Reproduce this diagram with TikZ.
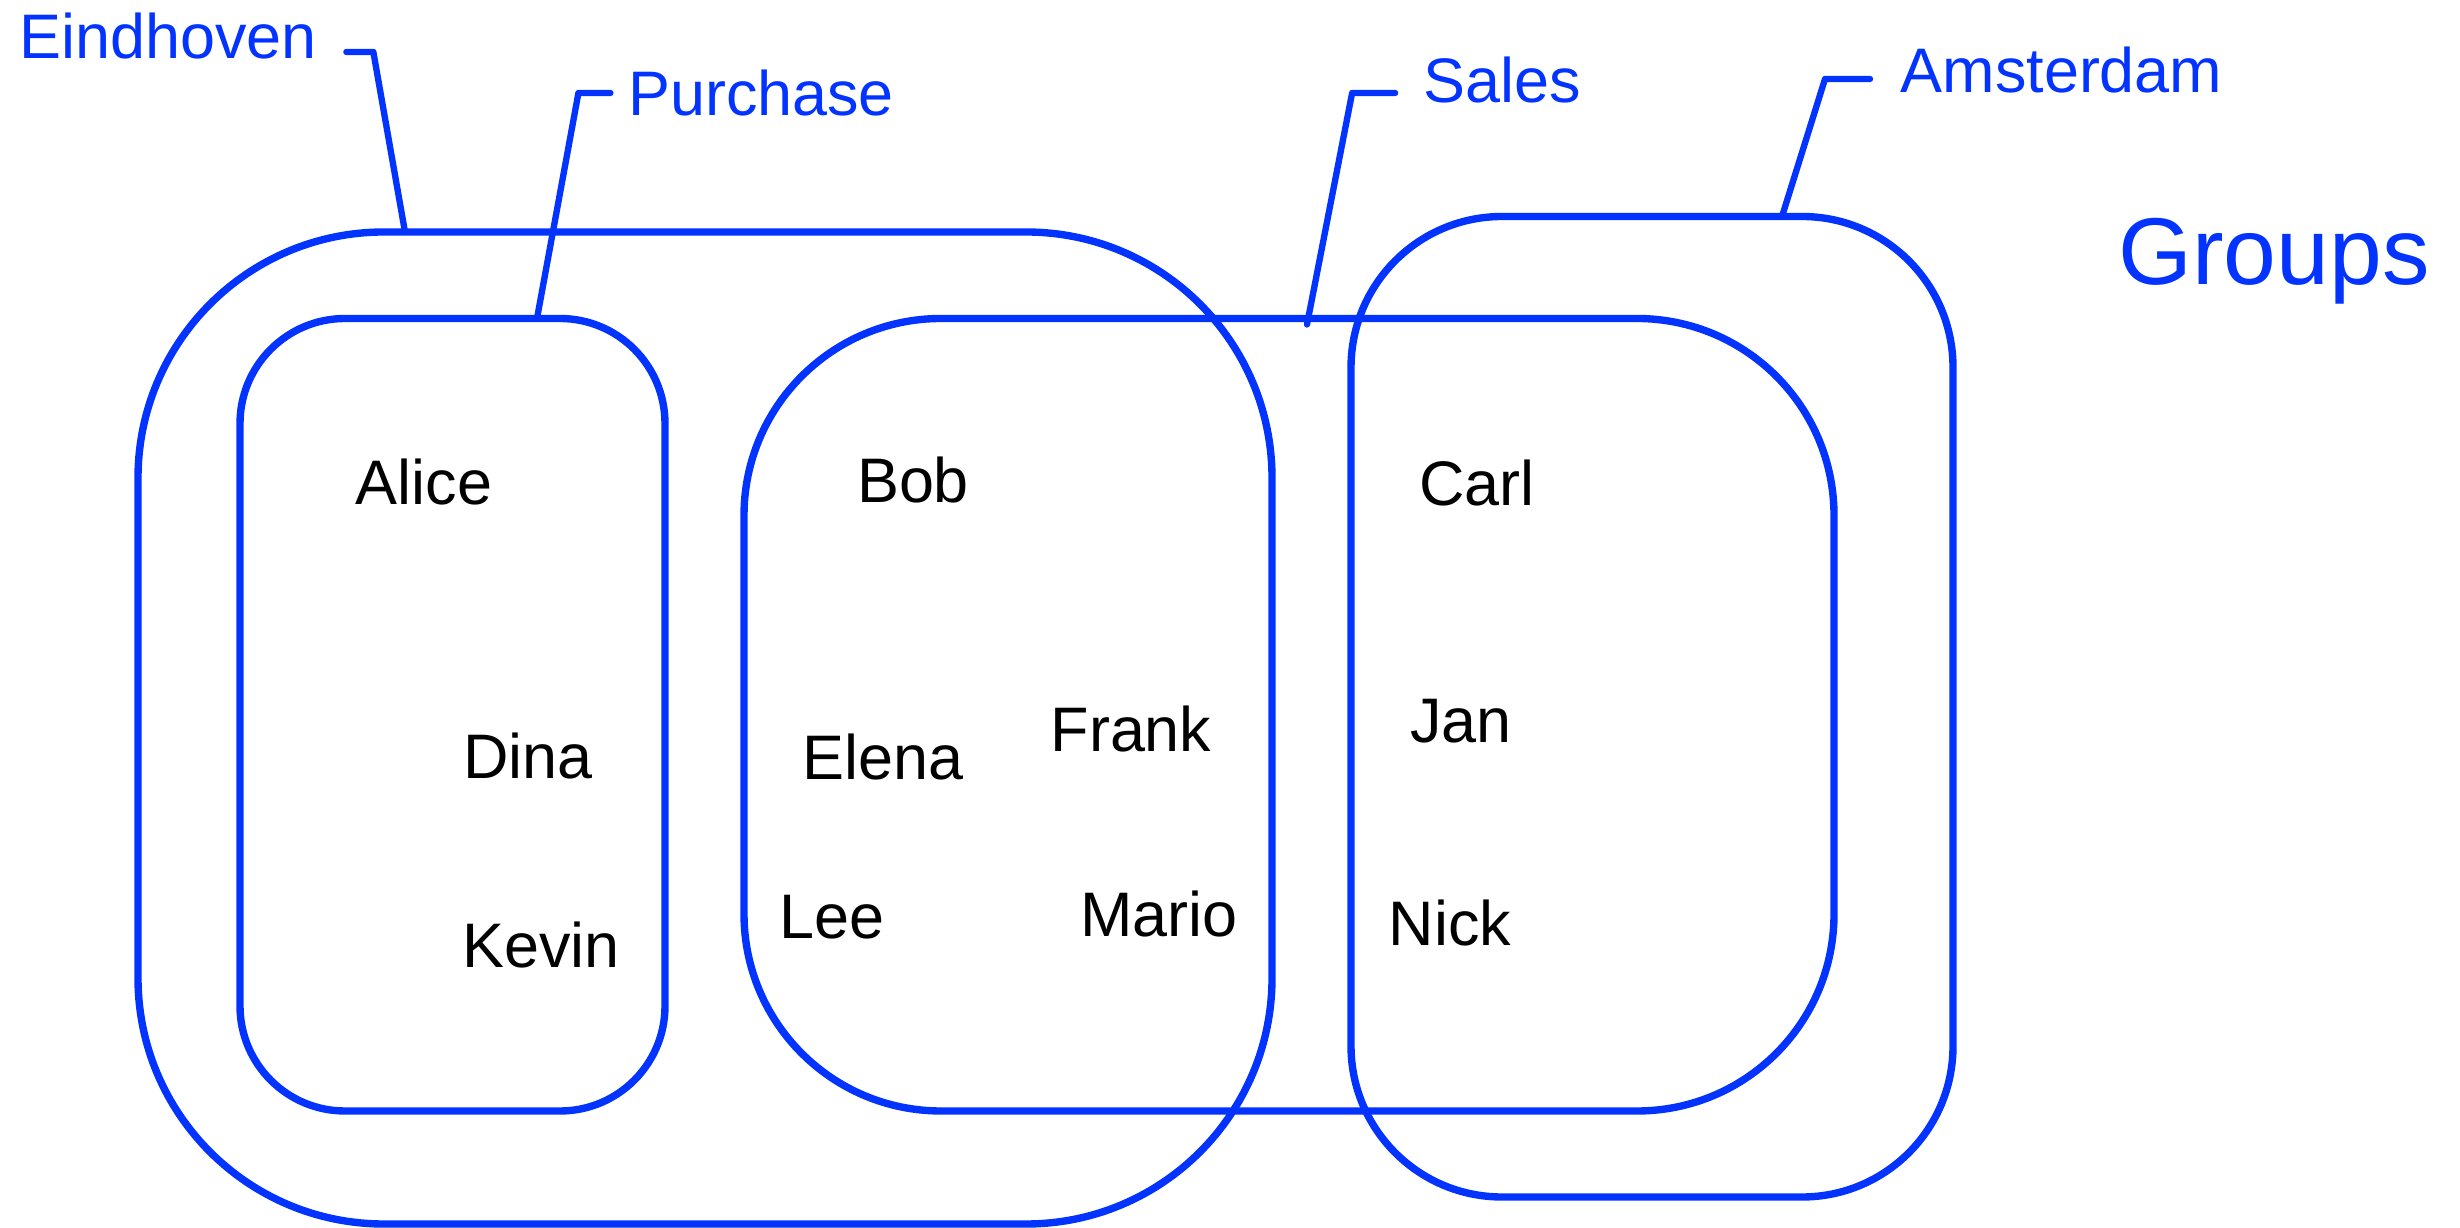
\documentclass[tikz,border=0pt]{standalone}
\usepackage{fontspec}
\setmainfont{Liberation Sans}
\definecolor{grpblue}{RGB}{3,51,255}

\begin{document}
\begin{tikzpicture}[
  group/.style={draw=grpblue, line width=2.1pt, rectangle, inner sep=0pt, outer sep=0pt},
  callout/.style={grpblue, line width=1.8pt, line cap=round, line join=round},
  grouplabel/.style={text=grpblue, inner sep=0pt, font=\fontsize{17.9}{21}\selectfont},
  member/.style={inner sep=0pt, font=\fontsize{17.9}{21}\selectfont}
]
\useasboundingbox (0,0) rectangle (24.6,12.27);

% Cities
\node[group, minimum width=11.34cm, minimum height=9.92cm, rounded corners=2.46cm] (eindhoven) at (7.05,4.99) {};
\node[group, minimum width=6.02cm, minimum height=9.805cm, rounded corners=1.51cm] (amsterdam) at (16.52,5.2025) {};

% Departments
\node[group, minimum width=4.25cm, minimum height=7.925cm, rounded corners=1.05cm] (purchase) at (4.525,5.1225) {};
\node[group, minimum width=10.90cm, minimum height=7.925cm, rounded corners=1.97cm] (sales) at (12.89,5.1225) {};

% People
\node[member] (alice) at (4.24,7.45) {Alice};
\node[member] (dina)  at (5.28,4.71) {Dina};
\node[member] (kevin) at (5.41,2.82) {Kevin};
\node[member] (bob)   at (9.13,7.47) {Bob};
\node[member] (elena) at (8.83,4.70) {Elena};
\node[member] (frank) at (11.31,4.98) {Frank};
\node[member] (lee)   at (8.32,3.10) {Lee};
\node[member] (mario) at (11.59,3.13) {Mario};
\node[member] (carl)  at (14.77,7.44) {Carl};
\node[member] (jan)   at (14.61,5.06) {Jan};
\node[member] (nick)  at (14.50,3.04) {Nick};

% Labels
\node[grouplabel] (eindLbl) at (1.68,11.91) {Eindhoven};
\node[grouplabel] (purLbl)  at (7.61,11.34) {Purchase};
\node[grouplabel] (salLbl)  at (15.025,11.465) {Sales};
\node[grouplabel] (amsLbl)  at (20.615,11.57) {Amsterdam};
\node[grouplabel, font=\fontsize{27}{32}\selectfont, anchor=base] (title) at (22.74,9.42) {Groups};

\draw[callout] ([xshift=0.29cm,yshift=-0.16cm]eindLbl.east) -- ++(0.27,0) -- ([xshift=2.67cm]eindhoven.north west);
\draw[callout] ([xshift=-0.17cm]purLbl.west) -- ++(-0.32,0) -- ([xshift=2.97cm]purchase.north west);
\draw[callout] ([xshift=-0.28cm,yshift=-0.125cm]salLbl.west) -- ++(-0.43,0) -- ([xshift=5.63cm,yshift=-0.06cm]sales.north west);
\draw[callout] ([xshift=-0.30cm,yshift=-0.09cm]amsLbl.west) -- ++(-0.45,0) -- ([xshift=4.31cm]amsterdam.north west);

\end{tikzpicture}
\end{document}
